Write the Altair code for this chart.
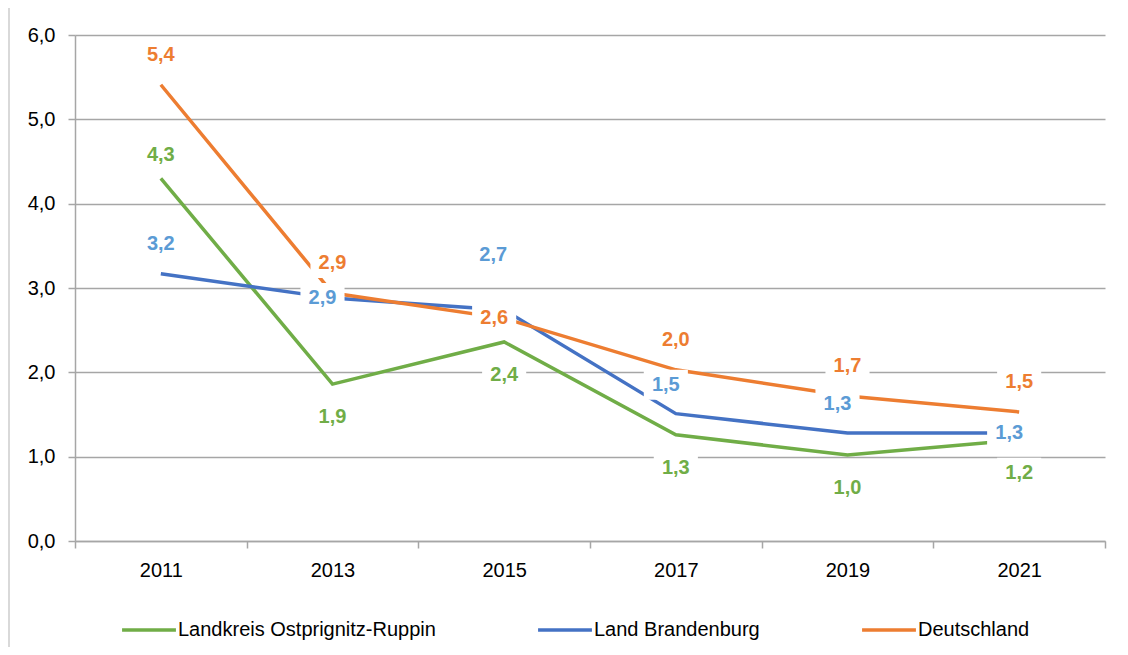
import altair as alt
import pandas as pd

years = [2011, 2013, 2015, 2017, 2019, 2021]
series_names = ["Landkreis Ostprignitz-Ruppin", "Land Brandenburg", "Deutschland"]
landkreis = [4.30, 1.86, 2.36, 1.26, 1.02, 1.20]
brandenburg = [3.17, 2.88, 2.74, 1.51, 1.28, 1.28]
deutschland = [5.41, 2.94, 2.64, 2.03, 1.72, 1.53]
# label placement relative to the point
landkreis_pos = ["near", "below", "below", "below", "below", "below"]
brandenburg_pos = ["above", "on", "high", "above_left", "above_left", "on"]
deutschland_pos = ["above", "above", "on", "above", "above", "above"]

line_colors = ["#70AD47", "#4472C4", "#ED7D31"]
label_colors = {"Landkreis Ostprignitz-Ruppin": "#70AD47",
                "Land Brandenburg": "#5B9BD5",
                "Deutschland": "#ED7D31"}
offsets = {"above": (0, -30), "above_left": (-10, -29), "below": (0, 33),
           "on": (-10, 0), "high": (-11, -55), "near": (0, -23)}

rows = []
for si, (name, vals, poss) in enumerate(zip(series_names, [landkreis, brandenburg, deutschland],
                                            [landkreis_pos, brandenburg_pos, deutschland_pos])):
    for yr, v, p in zip(years, vals, poss):
        rows.append({"series": name, "sidx": si, "year": yr, "value": v,
                     "label": f"{v:.1f}".replace(".", ","), "pos": p,
                     "lcolor": label_colors[name]})
df = pd.DataFrame(rows)

FONT = "Liberation Sans, Arial, sans-serif"
FS = 20
W, H = 1030, 506

x_enc = alt.X("year:Q", scale=alt.Scale(domain=[2010, 2022], nice=False), title=None,
              axis=alt.Axis(values=[2010, 2012, 2014, 2016, 2018, 2020, 2022],
                            labelExpr="datum.value < 2022 ? toString(datum.value + 1) : ''",
                            labelOffset=W / 12, labelFlush=False, grid=False,
                            domainColor="#A6A6A6", domainWidth=1.5, tickColor="#A6A6A6",
                            tickWidth=1.5, tickSize=7, labelPadding=12, labelFontSize=FS,
                            labelColor="#000000", labelFont=FONT))
y_enc = alt.Y("value:Q", scale=alt.Scale(domain=[0, 6], nice=False), title=None,
              axis=alt.Axis(values=[0, 1, 2, 3, 4, 5, 6],
                            labelExpr="replace(format(datum.value, '.1f'), '.', ',')",
                            grid=True, gridColor="#A6A6A6", gridWidth=1.5,
                            domainColor="#A6A6A6", domainWidth=1.5, tickColor="#A6A6A6",
                            tickWidth=1.5, tickSize=7, labelPadding=13, labelFontSize=FS,
                            labelColor="#000000", labelFont=FONT))

base = alt.Chart(df)

line_layers = []
for si, name in enumerate(series_names):
    line_layers.append(
        base.transform_filter(alt.datum.series == name).mark_line(strokeWidth=3.5).encode(
            x=x_enc, y=y_enc,
            color=alt.Color("series:N",
                            scale=alt.Scale(domain=series_names, range=line_colors),
                            legend=alt.Legend(title=None, orient="none", direction="horizontal",
                                              legendX=45, legendY=566, symbolType="stroke",
                                              symbolSize=2900, symbolStrokeWidth=3.5,
                                              labelFontSize=FS, labelFont=FONT,
                                              labelColor="#000000", labelLimit=0,
                                              columnPadding=95, labelOffset=0)),
            order="year:Q",
        )
    )

boxes = []
texts = []
for code, (dx, dy) in offsets.items():
    sub = base.transform_filter(alt.datum.pos == code)
    u = 15.0
    cx, cy = dx / u, dy / u
    path = (f"M{cx-1.47:.3f},{cy-1:.3f}H{cx+1.47:.3f}V{cy+1:.3f}H{cx-1.47:.3f}Z")
    boxes.append(sub.mark_point(shape=path, size=900, filled=True, fill="white",
                                opacity=1, strokeWidth=0).encode(
        x="year:Q", y="value:Q"))
    texts.append(sub.mark_text(dx=dx, dy=dy, font=FONT, fontSize=FS, fontWeight="bold",
                               align="center", baseline="middle").encode(
        x="year:Q", y="value:Q", text="label:N",
        color=alt.Color("lcolor:N", scale=None)))

frame_top = alt.Chart(df).mark_rule(color="#D9D9D9", strokeWidth=2).encode(
    x=alt.value(-66), x2=alt.value(1060), y=alt.value(-28))
frame_left = alt.Chart(df).mark_rule(color="#D9D9D9", strokeWidth=2).encode(
    x=alt.value(-66), y=alt.value(-28), y2=alt.value(630))

chart = alt.layer(frame_top, frame_left, *line_layers, *boxes, *texts).properties(
    width=W, height=H,
    padding={"left": 67, "top": 27, "right": 15, "bottom": 106},
    autosize=alt.AutoSizeParams(type="none"),
    background="white",
).configure_view(stroke=None)

chart.save("out.html", embed_options={"renderer": "svg", "actions": False})
